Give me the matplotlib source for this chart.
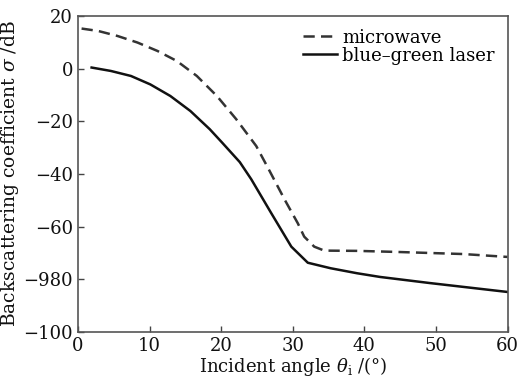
import matplotlib
matplotlib.use("Agg")
import matplotlib.pyplot as plt
from matplotlib.ticker import FixedLocator, FixedFormatter

plt.rcParams['font.family'] = ['DejaVu Serif']
plt.rcParams['mathtext.fontset'] = 'dejavuserif'

microwave_x = [0.5, 2.8, 5.5, 8.3, 11.1, 13.8, 16.6, 19.4, 22.1, 24.9, 26.5, 28.9, 30.7, 31.6, 33.0, 34.4, 39.0, 44.5, 53.8, 60.0]
microwave_y = [15.2, 14.3, 12.4, 9.9, 6.7, 2.9, -2.8, -10.4, -19.2, -29.4, -37.5, -49.9, -58.7, -63.8, -67.6, -69.1, -69.2, -69.6, -70.4, -71.5]

laser_x = [1.9, 4.6, 7.4, 10.1, 12.9, 15.7, 18.4, 20.1, 22.6, 24.2, 27.0, 29.8, 32.1, 35.3, 39.0, 42.2, 49.1, 60.0]
laser_y = [0.4, -0.9, -2.8, -6.0, -10.4, -16.1, -23.0, -28.0, -35.5, -42.0, -54.9, -67.6, -73.7, -75.8, -77.7, -79.1, -81.4, -84.8]

yticks = [20, 0, -20, -40, -60, -80, -100]
ytick_labels = ["20", "0", "\u221220", "\u221240", "\u221260", "\u2212980", "\u2212100"]
xticks = [0, 10, 20, 30, 40, 50, 60]
xtick_labels = ["0", "10", "20", "30", "40", "50", "60"]

fig = plt.figure(figsize=(5.2, 3.79), dpi=100)
ax = fig.add_axes([0.15, 0.124, 0.826, 0.834])

ax.plot(microwave_x, microwave_y, color="#333333", lw=1.8, ls=(0, (4.5, 2.5)), label="microwave")
ax.plot(laser_x, laser_y, color="#111111", lw=1.8, ls="-", label="blue\u2013green laser")

ax.set_xlim(0, 60)
ax.set_ylim(-100, 20)
ax.xaxis.set_major_locator(FixedLocator(xticks))
ax.xaxis.set_major_formatter(FixedFormatter(xtick_labels))
ax.yaxis.set_major_locator(FixedLocator(yticks))
ax.yaxis.set_major_formatter(FixedFormatter(ytick_labels))
ax.tick_params(direction="in", length=4, width=1, colors="#444444", labelcolor="#111111", labelsize=13)
for s in ax.spines.values():
    s.set_color("#555555")
    s.set_linewidth(1.2)

ax.set_xlabel(r"Incident angle $\theta_{\rm i}$ /(°)", fontsize=13, labelpad=0, color="#111111")
ax.set_ylabel(r"Backscattering coefficient $\sigma$ /dB", fontsize=13.5, labelpad=2, color="#111111")

ax.legend(loc="upper right", frameon=False, fontsize=13, handlelength=1.9, handletextpad=0.3,
          labelspacing=0.0, borderaxespad=0.3, bbox_to_anchor=(1.0, 1.0))

fig.savefig("out.png", dpi=100)
